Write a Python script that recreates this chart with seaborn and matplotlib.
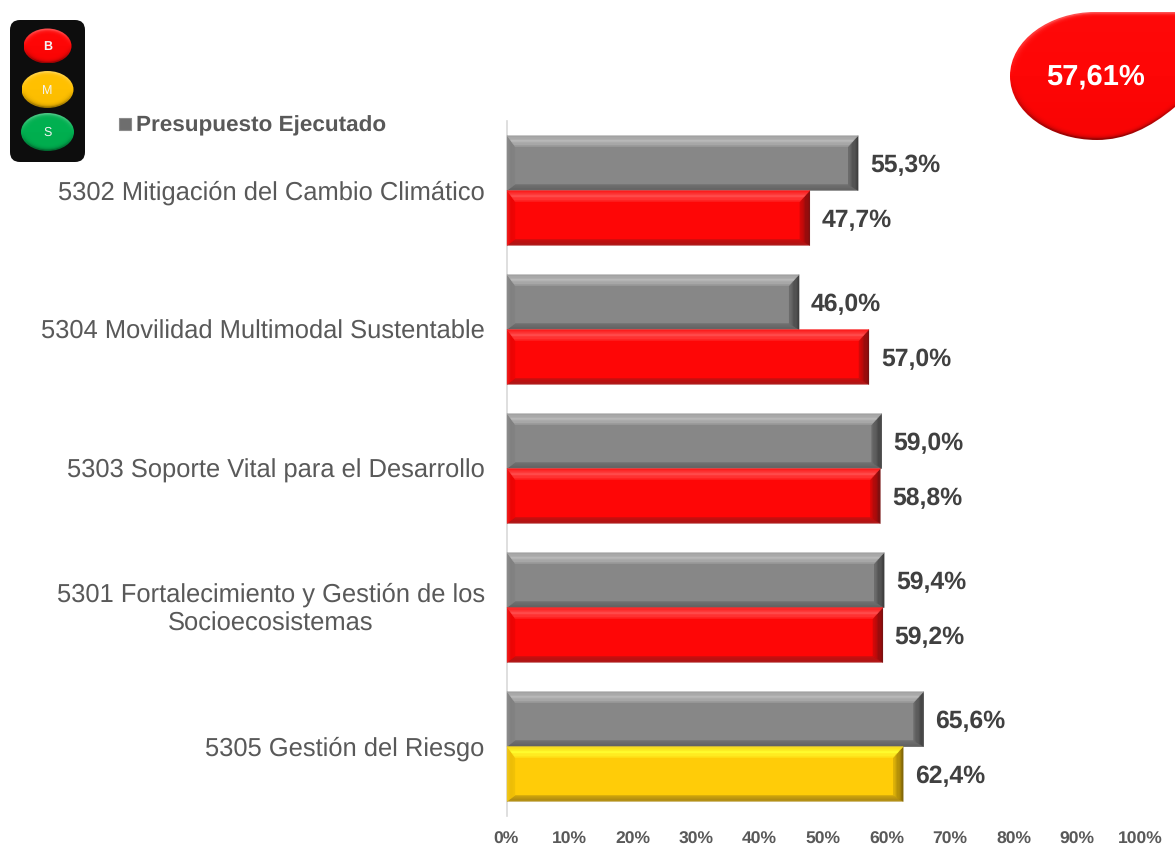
import numpy as np
import pandas as pd
import seaborn as sns
import matplotlib
matplotlib.use('Agg')
import matplotlib.pyplot as plt
from matplotlib.patches import Polygon, FancyBboxPatch, PathPatch, Rectangle
from matplotlib.path import Path
from matplotlib.colors import to_rgb
from matplotlib.transforms import ScaledTranslation

# Data
categories = ['5302 Mitigación del Cambio Climático',
              '5304 Movilidad Multimodal Sustentable',
              '5303 Soporte Vital para el Desarrollo',
              '5301 Fortalecimiento y Gestión de los\nSocioecosistemas',
              '5305 Gestión del Riesgo']
presupuesto = [55.3, 46.0, 59.0, 59.4, 65.6]
avance = [47.7, 57.0, 58.8, 59.2, 62.4]
semaforo = ['red', 'red', 'red', 'red', 'yellow']
total = '57,61%'
x_ticks = [0, 10, 20, 30, 40, 50, 60, 70, 80, 90, 100]

W, H = 1175, 846

# each band goes outer edge -> middle -> inner edge
bevels = {
    'gray': {'face': '#878787',
             'top': ['#9c9c9c', '#bcbcbc', '#9a9a9a'],
             'bottom': ['#5e5e5e', '#666666', '#707070'],
             'right': ['#3c3c3c', '#505050', '#6c6c6c'],
             'left': ['#8c8c8c', '#808080', '#828282']},
    'red': {'face': '#fe0606',
            'top': ['#fa1010', '#ff5050', '#ff2020'],
            'bottom': ['#a81a1a', '#b01414', '#c81010'],
            'right': ['#6e1010', '#a00c0c', '#d80808'],
            'left': ['#f02020', '#ea0404', '#f00404']},
    'yellow': {'face': '#ffcc08',
               'top': ['#f5d010', '#ffff30', '#ffe018'],
               'bottom': ['#ad8a14', '#b08c12', '#d0a60c'],
               'right': ['#7c6208', '#b08c08', '#e0b408'],
               'left': ['#f0c820', '#ecbc06', '#f2c206']},
}

sns.set_theme(style='white')
plt.rcParams['font.family'] = ['Liberation Sans', 'DejaVu Sans']
plt.rcParams['text.hinting'] = 'none'
plt.rcParams['text.hinting_factor'] = 8

df = pd.DataFrame({
    'categoria': categories * 2,
    'valor': presupuesto + avance,
    'serie': ['Presupuesto'] * 5 + ['Avance'] * 5,
})

fig = plt.figure(figsize=(W / 100, H / 100), dpi=100)
ax = fig.add_axes([507 / W, 1 - 816 / H, 635 / W, 695 / H])
sns.barplot(data=df, y='categoria', x='valor', hue='serie', ax=ax, width=0.79,
            gap=0, legend=False, palette=['#878787', '#fe0606'], saturation=1)

ax.set_xlim(0, 100)
ax.set_xlabel('')
ax.set_ylabel('')
ax.set_xticks(x_ticks)
ax.set_xticklabels([f'{t}%' for t in x_ticks], fontsize=12.6, fontweight='bold', color='#595959')
ax.tick_params(axis='x', length=0, pad=11)
ax.tick_params(axis='y', length=0, pad=16, labelsize=18.4, labelcolor='#595959')
for lab in ax.get_yticklabels():
    lab.set_multialignment('center')
    lab.set_linespacing(1.26)
    if '\n' in lab.get_text():
        lab.set_transform(lab.get_transform() + ScaledTranslation(0, 3 / 100, fig.dpi_scale_trans))
for lab in ax.get_xticklabels():
    lab.set_transform(lab.get_transform() + ScaledTranslation(-1.5 / 100, 0, fig.dpi_scale_trans))
sns.despine(ax=ax, bottom=True)
ax.spines['left'].set_color('#d9d9d9')
ax.spines['left'].set_linewidth(1.2)

# value labels
for cont, vals in zip(ax.containers, [presupuesto, avance]):
    labs = ax.bar_label(cont, labels=[f'{v:.1f}%'.replace('.', ',') for v in vals], padding=8.5,
                        fontsize=17.8, fontweight='bold', color='#404040')
    for t in labs:
        t.xyann = (t.xyann[0], t.xyann[1] - 2)

# overlay in pixel coordinates for the bevels and the decorations
ov = fig.add_axes([0, 0, 1, 1], zorder=5)
ov.set_xlim(0, W)
ov.set_ylim(H, 0)
ov.axis('off')


def stops(colors, t):
    c = [np.array(to_rgb(k)) for k in colors]
    return c[0] + (c[1] - c[0]) * t * 2 if t < 0.5 else c[1] + (c[2] - c[1]) * (t - 0.5) * 2


def bevel(patch, key):
    b = bevels[key]
    box = patch.get_window_extent()
    x0, x1 = box.x0, box.x1
    y0, y1 = H - box.y1, H - box.y0
    tb, bb, rb, lb = 11, 6, 10, 8
    patch.set_facecolor(b['face'])
    n = 8

    def at(t):
        # rectangle t of the way from the outer edge to the inner face
        return x0 + lb * t, x1 - rb * t, y0 + tb * t, y1 - bb * t

    for i in range(n):
        a0, a1, c0, c1 = at(i / n)
        e0, e1, d0, d1 = at((i + 1) / n)
        t = (i + 0.5) / n
        ov.add_patch(Polygon([(a0, c1), (a1, c1), (e1, d1), (e0, d1)], fc=stops(b['bottom'], t), ec=stops(b['bottom'], t), lw=0.2))
        ov.add_patch(Polygon([(a1, c0), (a1, c1), (e1, d1), (e1, d0)], fc=stops(b['right'], t), ec=stops(b['right'], t), lw=0.2))
        ov.add_patch(Polygon([(a0, c0), (a0, c1), (e0, d1), (e0, d0)], fc=stops(b['left'], t), ec=stops(b['left'], t), lw=0.2))
        ov.add_patch(Polygon([(a0, c0), (a1, c0), (e1, d0), (e0, d0)], fc=stops(b['top'], t), ec=stops(b['top'], t), lw=0.2))


fig.canvas.draw()
for bar in ax.containers[0]:
    bevel(bar, 'gray')
for bar, col in zip(ax.containers[1], semaforo):
    bevel(bar, col)


def glossy(path, color, z=6):
    # vertical gradient clipped to the shape, then pure colour shrinking in
    c = np.array(to_rgb(color))
    verts = path.vertices
    cx, cy = verts[:, 0].mean(), verts[:, 1].mean()
    x0, x1 = verts[:, 0].min(), verts[:, 0].max()
    y0, y1 = verts[:, 1].min(), verts[:, 1].max()
    t = np.linspace(0, 1, 64)[:, None, None]
    light = c + (1 - c) * 0.3
    dark = c * 0.6
    grad = np.where(t < 0.5, light + (c - light) * t * 2, c + (dark - c) * (t - 0.5) * 2)
    im = ov.imshow(grad, extent=[x0, x1, y1, y0], aspect='auto', zorder=z)
    im.set_clip_path(PathPatch(path, transform=ov.transData))
    w, h = x1 - x0, y1 - y0
    for i in range(5):
        s = 1 - (1.5 + i) * 2 / min(w, h)
        p = Path(np.c_[cx + (verts[:, 0] - cx) * s, cy + (verts[:, 1] - cy) * s], path.codes)
        ov.add_patch(PathPatch(p, fc=color, lw=0, alpha=0.45, zorder=z + 0.1))
    ov.set_xlim(0, W)
    ov.set_ylim(H, 0)


def ellipse_path(cx, cy, rx, ry):
    k = 0.5523
    v = [(cx + rx, cy), (cx + rx, cy + k * ry), (cx + k * rx, cy + ry), (cx, cy + ry),
         (cx - k * rx, cy + ry), (cx - rx, cy + k * ry), (cx - rx, cy),
         (cx - rx, cy - k * ry), (cx - k * rx, cy - ry), (cx, cy - ry),
         (cx + k * rx, cy - ry), (cx + rx, cy - k * ry), (cx + rx, cy)]
    return Path(v, [Path.MOVETO] + [Path.CURVE4] * 12)


# traffic light
ov.add_patch(FancyBboxPatch((18, 28), 59, 126, boxstyle='round,pad=8,rounding_size=10',
                            fc='#0d0d0d', ec='none', zorder=5))
lights = [(47.5, 46, 24, 17.5, '#fe0606', 'B', 'bold'), (47.5, 89.5, 26, 18.5, '#ffc000', 'M', 'normal'),
          (47.5, 132, 26.5, 19, '#00b050', 'S', 'normal')]
for cx, cy, rx, ry, col, letter, wt in lights:
    glossy(ellipse_path(cx, cy, rx, ry), col)
    ov.text(cx, cy + 1, letter, color='#f4f4f4', fontsize=9, fontweight=wt, ha='center', va='center', zorder=8)

# legend
ov.add_patch(Rectangle((119, 118), 12, 12, fc='#6e6e6e', ec='#8c8c8c', lw=0.8, zorder=6))
ov.text(136, 126, 'Presupuesto Ejecutado', fontsize=16.2, fontweight='bold', color='#595959',
        va='center', ha='left', zorder=6)

# total badge, runs off the right edge
badge = Path([(1095, 12), (1140, 12), (1175, 12), (1215, 12), (1215, 60), (1215, 85), (1175, 107),
              (1150, 128), (1125, 140), (1097, 140), (1050, 140), (1010, 112), (1010, 76),
              (1010, 40), (1050, 12), (1095, 12)],
             [Path.MOVETO] + [Path.CURVE4] * 15)
glossy(badge, '#fe0606')
ov.text(1096, 77, total, color='white', fontsize=21, fontweight='bold', ha='center', va='center', zorder=8)

fig.savefig('out.png', dpi=100)
